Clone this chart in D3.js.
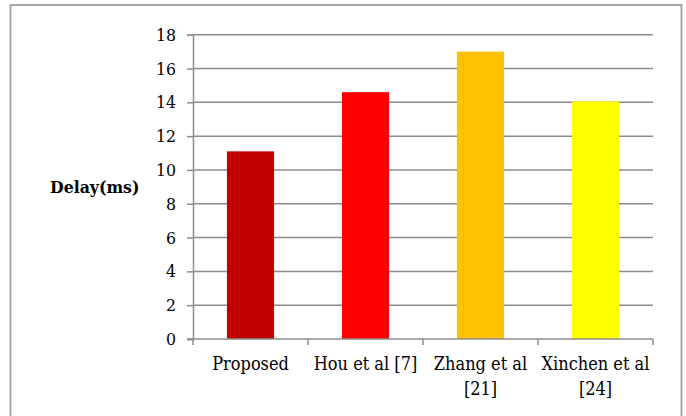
<!DOCTYPE html>
<html>
<head>
<meta charset="utf-8">
<script src="https://cdn.jsdelivr.net/npm/d3@7"></script>
<style>
  html, body { margin: 0; padding: 0; background: #ffffff; }
  svg { display: block; }
  svg text { font-family: "DejaVu Serif Condensed", "DejaVu Serif", serif; font-stretch: condensed; }
</style>
</head>
<body>
<svg id="chart" width="686" height="416"></svg>
<script>
// Delay per method
const categories = ["Proposed", "Hou et al [7]", "Zhang et al [21]", "Xinchen et al [24]"];
const delays = [11.1, 14.6, 17.0, 14.05];
const barColors = ["#C00000", "#FF0000", "#FFC000", "#FFFF00"];
const yTicks = [0, 2, 4, 6, 8, 10, 12, 14, 16, 18];
const yTitle = "Delay(ms)";

const svg = d3.select("#chart");
const plot = { left: 193, right: 653, top: 34.7, bottom: 339 };

// outer frame
svg.append("rect")
  .attr("x", 10.5).attr("y", 5)
  .attr("width", 671).attr("height", 420)
  .attr("fill", "#fff")
  .attr("stroke", "#a6a6a6").attr("stroke-width", 2);

const x = d3.scaleBand()
  .domain(categories)
  .range([plot.left, plot.right])
  .paddingInner(0.59)
  .paddingOuter(0.295);

const y = d3.scaleLinear()
  .domain([0, 18])
  .range([plot.bottom, plot.top]);

// horizontal gridlines
svg.append("g")
  .selectAll("line")
  .data(yTicks.filter(d => d > 0))
  .join("line")
  .attr("x1", plot.left).attr("x2", plot.right)
  .attr("y1", d => y(d)).attr("y2", d => y(d))
  .attr("stroke", "#8c8c8c").attr("stroke-width", 1.5);

// bars
svg.append("g")
  .selectAll("rect")
  .data(categories)
  .join("rect")
  .attr("x", d => x(d))
  .attr("width", x.bandwidth())
  .attr("y", (d, i) => y(delays[i]))
  .attr("height", (d, i) => y(0) - y(delays[i]))
  .attr("fill", (d, i) => barColors[i]);

// y axis
const yAxis = svg.append("g")
  .attr("transform", `translate(${plot.left},0)`)
  .call(d3.axisLeft(y).tickValues(yTicks).tickSize(6).tickPadding(11).tickFormat(d3.format("d")));
yAxis.attr("font-family", null).attr("font-size", null);
yAxis.select(".domain").attr("stroke", "#8c8c8c").attr("stroke-width", 1.5);
yAxis.selectAll(".tick line").attr("stroke", "#8c8c8c").attr("stroke-width", 1.5);
yAxis.selectAll(".tick text").attr("fill", "#000").style("font-size", "17.5px");

// x axis baseline with boundary ticks
const xg = svg.append("g");
xg.append("line")
  .attr("x1", plot.left - 6).attr("x2", plot.right)
  .attr("y1", y(0)).attr("y2", y(0))
  .attr("stroke", "#8c8c8c").attr("stroke-width", 1.5);
const bounds = categories.map(c => x(c) - x.step() * x.paddingInner() / 2);
bounds.push(plot.right);
xg.selectAll("line.bt")
  .data(bounds)
  .join("line")
  .attr("class", "bt")
  .attr("x1", d => d).attr("x2", d => d)
  .attr("y1", y(0)).attr("y2", y(0) + 6)
  .attr("stroke", "#8c8c8c").attr("stroke-width", 1.5);

// category labels, wrapped to the band width
const labels = xg.selectAll("text.cat")
  .data(categories)
  .join("text")
  .attr("class", "cat")
  .attr("text-anchor", "middle")
  .style("font-size", "18px")
  .attr("fill", "#000")
  .attr("x", d => x(d) + x.bandwidth() / 2)
  .attr("y", 370);

labels.each(function(d) {
  const t = d3.select(this);
  const cx = +t.attr("x");
  const words = d.split(" ");
  const maxW = x.step() + 2;
  let line = [];
  let tspan = t.append("tspan").attr("x", cx).attr("dy", 0);
  for (const w of words) {
    line.push(w);
    tspan.text(line.join(" "));
    if (tspan.node().getComputedTextLength() > maxW && line.length > 1) {
      line.pop();
      tspan.text(line.join(" "));
      line = [w];
      tspan = t.append("tspan").attr("x", cx).attr("dy", 25).text(w);
    }
  }
});

// y axis title
svg.append("text")
  .attr("x", 50).attr("y", 193)
  .style("font-size", "17.5px")
  .style("font-weight", "bold")
  .attr("fill", "#000")
  .text(yTitle);
</script>
</body>
</html>
